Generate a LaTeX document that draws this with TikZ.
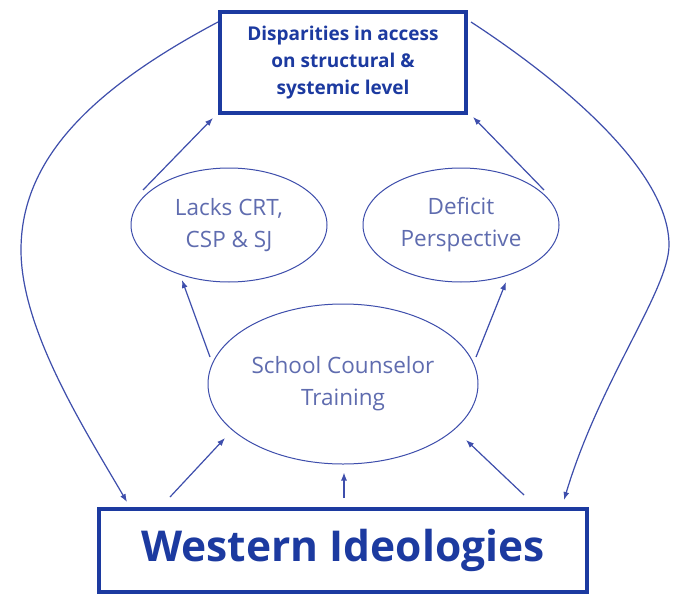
\documentclass[tikz,border=0pt]{standalone}
\usepackage{fontspec}
\setmainfont{Open Sans}
\usetikzlibrary{shapes.geometric,arrows.meta,calc}
\definecolor{boxblue}{RGB}{28,58,160}
\definecolor{lineblue}{RGB}{62,78,172}
\definecolor{elltext}{RGB}{95,108,175}
\begin{document}
\begin{tikzpicture}[x=1pt,y=-1pt,
  bigbox/.style={draw=boxblue,line width=4pt,text=boxblue,align=center,inner sep=0pt},
  oval/.style={ellipse,draw=lineblue,line width=1pt,text=elltext,align=center,inner sep=0pt,font=\fontsize{22.5}{32}\selectfont},
  arr/.style={draw=lineblue,line width=1.2pt,-{Latex[length=8pt,width=6pt]}},
]
\fill[white] (0,0) rectangle (676,596);
\useasboundingbox (0,0) rectangle (676,596);

\node[bigbox,minimum width=246pt,minimum height=101pt,font=\bfseries\fontsize{19}{27}\selectfont] (top) at (343,62.5) {Disparities in access\\on structural \&\\systemic level};
\node[oval,minimum width=196pt,minimum height=114pt] (lacks) at (229,225) {Lacks CRT,\\CSP \& SJ};
\node[oval,minimum width=196pt,minimum height=114pt] (deficit) at (461,225) {Deficit\\Perspective};
\node[oval,minimum width=270pt,minimum height=160pt] (train) at (343,384) {School Counselor\\Training};
\node[bigbox,minimum width=488pt,minimum height=83pt,font=\bfseries\fontsize{42.5}{48}\selectfont] (west) at (343,550.5) {Western Ideologies};

\draw[arr] ($(lacks.center)+(-86,-35)$) -- ($(top.south west)+(-5,3)$);
\draw[arr] ($(deficit.center)+(83,-35)$) -- ($(top.south east)+(5,2)$);
\draw[arr] ($(train.center)+(-133,-27)$) -- ($(lacks.center)+(-47,55)$);
\draw[arr] ($(train.center)+(133,-27)$) -- ($(deficit.center)+(45,57)$);
\draw[arr] ($(west.north west)+(73,-10)$) -- ($(train.center)+(-118,54)$);
\draw[arr] ($(west.north)+(1,-9)$) -- ($(train.south)+(1,8)$);
\draw[arr] ($(west.north east)+(-65,-12)$) -- ($(train.center)+(123,56)$);

\coordinate (lbend) at (21,250);
\coordinate (rbend) at (669,245);
\draw[arr] ($(top.north west)+(0,12)$) .. controls (90,90) and (21,160) .. (lbend) .. controls (21,330) and (85,430) .. ($(west.north west)+(30,-5)$);
\draw[arr] ($(top.north east)+(3,12)$) .. controls (560,80) and (669,170) .. (rbend) .. controls (669,290) and (600,380) .. ($(west.north east)+(-25,-7)$);
\end{tikzpicture}
\end{document}
